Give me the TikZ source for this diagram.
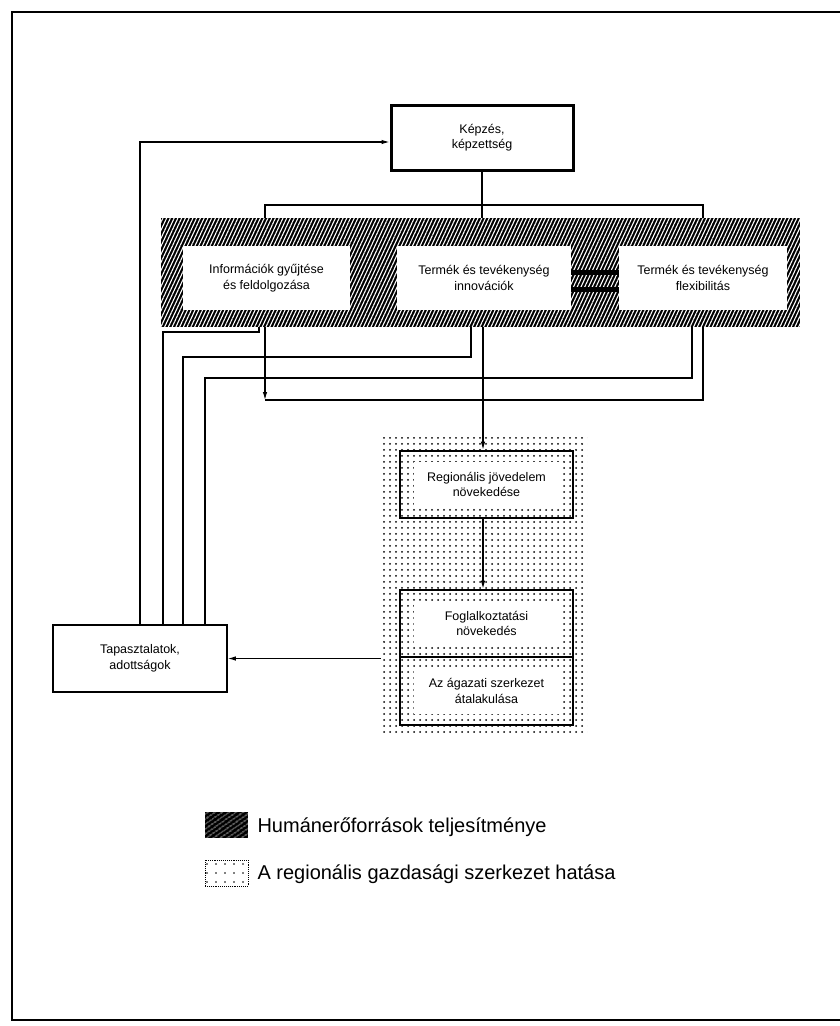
\documentclass[tikz,border=0pt]{standalone}
\usepackage{fontspec}
\setmainfont{Liberation Sans}
\usetikzlibrary{arrows.meta,patterns.meta}
\begin{document}
\begin{tikzpicture}[x=1pt,y=-1pt,
  txt/.style={font=\fontsize{12.5}{15.5}\selectfont, align=center},
  conn/.style={line width=1.1pt},
  arr/.style={-{Latex[length=8pt,width=4.5pt]}},
  boxw/.style={fill=white, inner sep=0pt, txt},
  hatchfill/.style={fill=black, postaction={pattern={Lines[angle=65,distance=3.4pt,line width=1.1pt]}, pattern color=white}},
  dotfill/.style={pattern={Dots[radius=1pt,distance=6pt]}, pattern color=black},
  thickbox/.style={draw, line width=2.6pt, inner sep=0pt, txt,
    path picture={\fill[white] ([xshift=14pt,yshift=-11pt]path picture bounding box.north west) rectangle ([xshift=-10pt,yshift=11pt]path picture bounding box.south east);}},
]
\useasboundingbox (0,0) rectangle (840,1026);
% frame
\draw[line width=1.5pt] (840,12) -- (12,12) -- (12,1020) -- (840,1020);

% top box
\node[draw, line width=3pt, minimum width=182pt, minimum height=65pt, inner sep=0pt, txt] (kep) at (482,137.5) {Képzés,\\képzettség};

% hatched band
\node[hatchfill, minimum width=639pt, minimum height=109pt, inner sep=0pt] (band) at (480.5,272.5) {};
\node[boxw, minimum width=167pt, minimum height=64pt] (b1) at (266.5,278) {Információk gyűjtése\\és feldolgozása};
\node[boxw, minimum width=174pt, minimum height=64pt] (b2) at (484,278) {Termék és tevékenység\\innovációk};
\node[boxw, minimum width=168pt, minimum height=64pt] (b3) at (703,278) {Termék és tevékenység\\flexibilitás};
\draw[line width=5pt] ([yshift=6pt]b2.east) -- ([yshift=6pt]b3.west);
\draw[line width=5pt] ([yshift=-11pt]b2.east) -- ([yshift=-11pt]b3.west);

% connections from top box
\coordinate (t1) at (265,205);
\coordinate (t3) at (703,205);
\draw[conn] (kep.south) -- (kep.south |- band.north);
\draw[conn] (t1 |- band.north) -- (t1) -- (t3) -- (t3 |- band.north);

% dotted region
\node[dotfill, minimum width=206pt, minimum height=298pt, inner sep=0pt] (dotreg) at (484,586) {};
\node[thickbox, minimum width=173pt, minimum height=67pt] (reg) at (486.5,484.5) {Regionális jövedelem\\növekedése};
\node[thickbox, minimum width=173pt, minimum height=67pt] (fog) at (486.5,623.5) {Foglalkoztatási\\növekedés};
\node[thickbox, minimum width=173pt, minimum height=68pt] (aga) at (486.5,691) {Az ágazati szerkezet\\átalakulása};

% left box
\node[draw, line width=1.6pt, minimum width=174pt, minimum height=67pt, inner sep=0pt, txt] (tap) at (140,658.5) {Tapasztalatok,\\adottságok};

% coordinates for routing
\coordinate (xa) at (163,0);
\coordinate (xc) at (183,0);
\coordinate (xd) at (205,0);
\coordinate (xe) at (483,0);
\coordinate (ya) at (0,332);
\coordinate (yc) at (0,357);
\coordinate (yd) at (0,378);
\coordinate (yb) at (0,400);
\coordinate (s1) at (259,0);
\coordinate (s1b) at (265,0);
\coordinate (s2) at (471,0);
\coordinate (s3) at (692,0);
\coordinate (s3b) at (703,0);

% feedback lines
\draw[conn] (s1 |- band.south) -- (s1 |- ya) -- (xa |- ya) -- (xa |- tap.north);
\draw[conn] (s2 |- band.south) -- (s2 |- yc) -- (xc |- yc) -- (xc |- tap.north);
\draw[conn] (s3 |- band.south) -- (s3 |- yd) -- (xd |- yd) -- (xd |- tap.north);
\draw[conn] (s3b |- band.south) -- (s3b |- yb) -- (s1b |- yb);
\draw[conn,arr] (s1b |- band.south) -- (s1b |- yb);
\draw[conn,arr] (tap.north) |- ([yshift=-4.5pt]kep.west);

% down the chain
\draw[conn,arr] (xe |- band.south) -- (xe |- reg.north);
\draw[conn,arr] (xe |- reg.south) -- (xe |- fog.north);
\draw[conn,arr] (dotreg.west |- tap.east) -- (tap.east);

% legend
\node[fill=black, minimum width=43pt, minimum height=26pt, inner sep=0pt,
  postaction={pattern={Lines[angle=35,distance=4pt,line width=0.8pt]}, pattern color=white}] (lh) at (226.5,825) {};
\node[anchor=west, font=\fontsize{20}{24}\selectfont] (lht) at (254,827) {Humánerőforrások teljesítménye};
\node[draw, densely dotted, line width=0.9pt, minimum width=43pt, minimum height=26pt, inner sep=0pt,
  pattern={Dots[radius=0.9pt,distance=9pt]}, pattern color=black] (ld) at (226.5,873) {};
\node[anchor=west, font=\fontsize{20}{24}\selectfont] (ldt) at (254,874) {A regionális gazdasági szerkezet hatása};
\end{tikzpicture}
\end{document}
